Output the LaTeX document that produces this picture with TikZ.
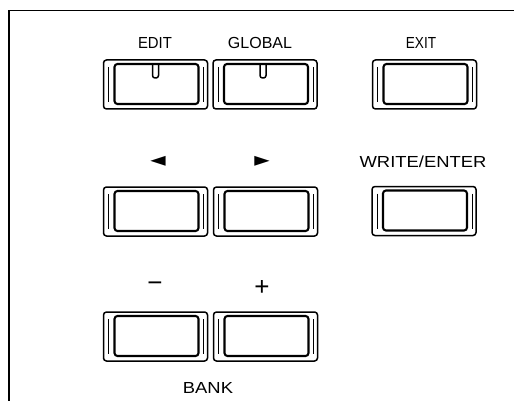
\documentclass[tikz,border=0pt]{standalone}
\usepackage{fontspec}
\setmainfont{Liberation Sans}
\newfontfamily\symfont{DejaVu Sans}
\usetikzlibrary{calc}
\tikzset{
  btn/.style={draw, line width=1.5pt, rounded corners=3pt, minimum width=104pt, minimum height=49pt, outer sep=0pt, inner sep=0pt},
  btninner/.style={draw, line width=2.1pt, rounded corners=3pt},
  bevel/.style={draw, line width=0.5pt},
  lbl/.style={font=\fontsize{16}{18}\selectfont, inner sep=0pt},
  sym/.style={font=\symfont\fontsize{20}{22}\selectfont, inner sep=0pt},
  pm/.style={font=\fontsize{26}{28}\selectfont, inner sep=0pt},
  frame/.style={draw, line width=1.5pt}
}
\newcommand\btndeco[1]{%
  \draw[btninner] ($(#1.north west)+(11,4)$) rectangle ($(#1.south east)+(-9,-5)$);
  \draw[bevel] ($(#1.north west)+(5,7)$) -- ($(#1.south west)+(5,-7)$);
  \draw[bevel] ($(#1.north east)+(-4,7)$) -- ($(#1.south east)+(-4,-7)$);
}
\begin{document}
\begin{tikzpicture}[x=1pt,y=-1pt]
\useasboundingbox (0,0) rectangle (514,401);
\coordinate (fb) at (9,401);
\coordinate (fc) at (9,10.5);
\coordinate (fr) at (514,10.5);
\draw[frame] (fb) -- (fc) -- (fr);

% labels
\node[lbl] (tedit) at (155,43) {\scalebox{0.93}[1]{EDIT}};
\node[lbl] (tglobal) at (260,43) {GLOBAL};
\node[lbl] (texit) at (421,43) {\scalebox{0.85}[1]{EXIT}};
\node[sym] (tleft) at (158,161) {◄};
\node[sym] (tright) at (262,161) {►};
\node[lbl] (twrite) at (423,162) {\scalebox{1.15}[1]{WRITE/ENTER}};
\node[pm] (tminus) at (155,287) {−};
\node[pm] (tplus) at (262,288) {+};
\node[lbl] (tbank) at (208,388) {\scalebox{1.15}[1]{BANK}};

% buttons
\node[btn] (edit) at (155.5,84.5) {};
\node[btn] (global) at (265,84.5) {};
\node[btn] (exit) at (424.5,84.5) {};
\node[btn] (left) at (155.5,211.5) {};
\node[btn] (right) at (265.5,211.5) {};
\node[btn] (write) at (424,211) {};
\node[btn] (minus) at (155.5,336.5) {};
\node[btn] (plus) at (265.5,336.5) {};

\btndeco{edit}
\btndeco{global}
\btndeco{exit}
\btndeco{left}
\btndeco{right}
\btndeco{write}
\btndeco{minus}
\btndeco{plus}

% LED notches
\draw[line width=1.5pt, rounded corners=2.5pt] ($(edit.north)+(-3,4)$) -- ++(0,14) -- ++(6,0) -- ++(0,-14);
\draw[line width=1.5pt, rounded corners=2.5pt] ($(global.north)+(-5,4)$) -- ++(0,14) -- ++(6,0) -- ++(0,-14);
\end{tikzpicture}
\end{document}
